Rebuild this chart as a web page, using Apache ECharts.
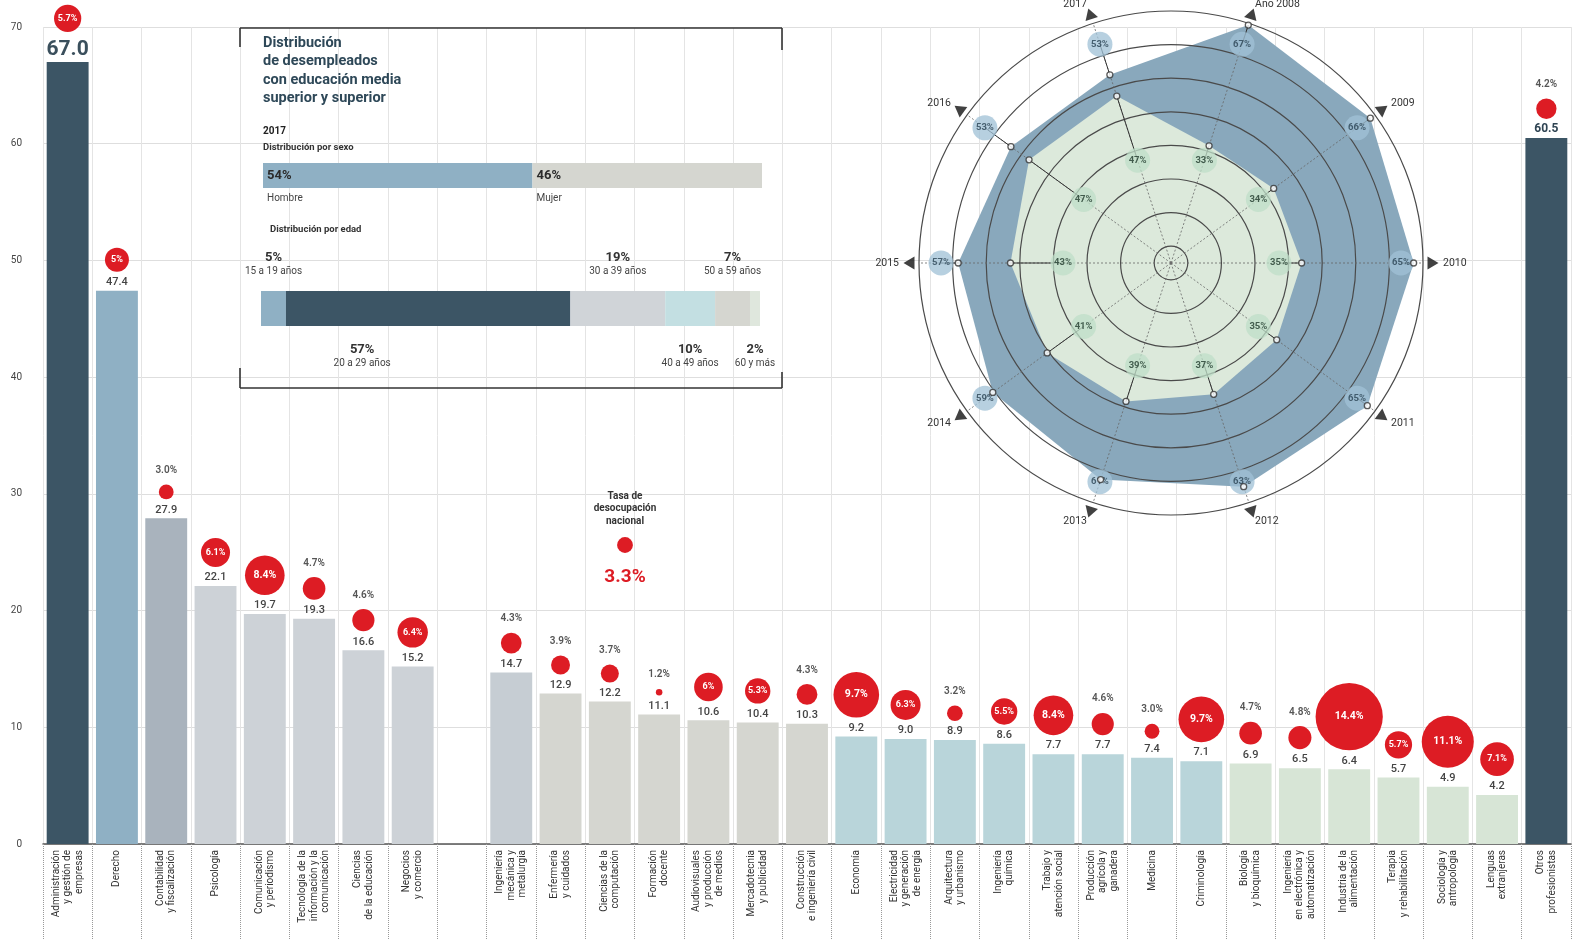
<!DOCTYPE html>
<html><head><meta charset="utf-8">
<script src="https://cdn.jsdelivr.net/npm/echarts@6/dist/echarts.min.js"></script>
<style>html,body{margin:0;padding:0;background:#fff}#c{width:1595px;height:951px}</style>
</head><body><div id="c"></div>
<script>
// ---------- DATA ----------
const categories = ['Administración\ny gestión de\nempresas','Derecho','Contabilidad\ny fiscalización','Psicología','Comunicación\ny periodismo','Tecnología de la\ninformación y la\ncomunicación','Ciencias\nde la educación','Negocios\ny comercio','','Ingeniería\nmecánica y\nmetalurgia','Enfermería\ny cuidados','Ciencias de la\ncomputación','Formación\ndocente','Audiovisuales\ny producción\nde medios','Mercadotecnia\ny publicidad','Construcción\ne ingeniería civil','Economía','Electricidad\ny generación\nde energía','Arquitectura\ny urbanismo','Ingeniería\nquímica','Trabajo y\natención social','Producción\nagrícola y\nganadera','Medicina','Criminología','Biología\ny bioquímica','Ingeniería\nen electrónica y\nautomatización','Industria de la\nalimentación','Terapia\ny rehabilitación','Sociología y\nantropología','Lenguas\nextranjeras','Otros\nprofesionistas'];
const unemployed = [67.0,47.4,27.9,22.1,19.7,19.3,16.6,15.2,null,14.7,12.9,12.2,11.1,10.6,10.4,10.3,9.2,9.0,8.9,8.6,7.7,7.7,7.4,7.1,6.9,6.5,6.4,5.7,4.9,4.2,60.5];
const rates = [5.7,5,3.0,6.1,8.4,4.7,4.6,6.4,null,4.3,3.9,3.7,1.2,6,5.3,4.3,9.7,6.3,3.2,5.5,8.4,4.6,3.0,9.7,4.7,4.8,14.4,5.7,11.1,7.1,4.2];
const rateLabels = ['5.7%','5%','3.0%','6.1%','8.4%','4.7%','4.6%','6.4%','','4.3%','3.9%','3.7%','1.2%','6%','5.3%','4.3%','9.7%','6.3%','3.2%','5.5%','8.4%','4.6%','3.0%','9.7%','4.7%','4.8%','14.4%','5.7%','11.1%','7.1%','4.2%'];
const barGroup = [0,1,2,3,3,3,3,3,-1,4,5,5,5,5,5,5,6,6,6,6,6,6,6,6,7,7,7,7,7,7,0];
const nationalRate = 3.3;

const years = ['2008','2009','2010','2011','2012','2013','2014','2015','2016','2017'];
const shareOuter = [67,66,65,65,63,61,59,57,53,53];
const shareInner = [33,34,35,35,37,39,41,43,47,47];

const sexLabels = ['Hombre','Mujer'];
const sexPct = [54,46];
const ageLabels = ['15 a 19 años','20 a 29 años','30 a 39 años','40 a 49 años','50 a 59 años','60 y más'];
const agePct = [5,57,19,10,7,2];

// ---------- STYLE ----------
const groupColors = ['#3c5565','#8fb0c4','#a9b3bd','#cdd2d7','#c6cdd3','#d5d6d0','#b9d5da','#d7e5d6'];
const RED = '#dd1c24';
const FONT = "'Liberation Sans Narrow','Roboto',sans-serif";
const FONTB = "'Roboto','Noto Sans',sans-serif";

const RC = [1171, 263], RR = 252, RMAX = 67.5, RSPLIT = 15;
const order = [0,9,8,7,6,5,4,3,2,1];
const angOf = i => ((72 - 36 * i) % 360 + 360) % 360;
const rPx = v => v / RMAX * RR;

// bars
const barData = unemployed.map((v, i) => {
  if (v == null) return null;
  const o = { value: v, itemStyle: { color: groupColors[barGroup[i]] } };
  if (i === 0) o.label = { fontSize: 21, fontWeight: 'bold', color: '#3a4f5c', distance: 2 };
  if (i === unemployed.length - 1) o.label = { fontSize: 12, fontWeight: 'bold', color: '#2f4453' };
  return o;
});

// red bubbles
const bubbleData = rates.map((r, i) => {
  if (r == null) return null;
  const size = 4.6 * r + 1;
  const gap = i === 0 ? 30 : 19;
  const inside = r >= 5;
  return {
    value: [i, unemployed[i]],
    symbolSize: size,
    symbolOffset: [0, -(gap + size / 2)],
    label: inside
      ? { show: true, position: 'inside', formatter: rateLabels[i], color: '#fff', fontWeight: 'bold', fontSize: size > 34 ? 10.5 : 9, fontFamily: FONTB }
      : { show: true, position: 'top', distance: 9, formatter: rateLabels[i], color: '#555', fontWeight: 600, fontSize: 10, fontFamily: FONTB }
  };
});

// age series
const ageColors = ['#8fb0c4','#3c5565','#d0d4d8','#c3dfe2','#d5d6d0','#dfe7dd'];
const agePos = ['top','bottom','top','bottom','top','bottom'];
const ageSeries = agePct.map((p, i) => ({
  type: 'bar', xAxisIndex: 2, yAxisIndex: 2, stack: 'age', barWidth: '100%',
  data: [p], itemStyle: { color: ageColors[i] },
  label: {
    show: true, position: agePos[i], distance: agePos[i] === 'top' ? 14 : 16,
    offset: i === 1 ? [-66, 0] : [0, 0],
    formatter: '{p|' + p + '%}\n{n|' + ageLabels[i] + '}',
    rich: { p: { fontSize: 13, fontWeight: 'bold', color: '#333', fontFamily: FONTB, lineHeight: 15, align: 'center' },
            n: { fontSize: 10, color: '#444', fontFamily: FONT, lineHeight: 12, align: 'center' } }
  }
}));
const sexColors = ['#8fb0c4','#d5d6d0'];
const sexSeries = sexPct.map((p, i) => ({
  type: 'bar', xAxisIndex: 1, yAxisIndex: 1, stack: 'sex', barWidth: '100%',
  data: [p], itemStyle: { color: sexColors[i] },
  label: { show: true, position: [4, 2], formatter: '{p|' + p + '%}\n{n|' + sexLabels[i] + '}',
    rich: { p: { fontSize: 13, fontWeight: 'bold', color: '#2b2b2b', fontFamily: FONTB, lineHeight: 22 },
            n: { fontSize: 10, color: '#444', fontFamily: FONT, lineHeight: 22 } } }
}));

// radar overlays (polar, pixel radius units)
const OUT_R = 230, IN_R = 108, TRI_R = 262;
const leaderData = [];
years.forEach((y, i) => {
  leaderData.push([rPx(shareOuter[i]), OUT_R, angOf(i)]);
  leaderData.push([rPx(shareInner[i]), IN_R, angOf(i)]);
});
const pointData = [];
years.forEach((y, i) => { pointData.push([rPx(shareOuter[i]), angOf(i)]); pointData.push([rPx(shareInner[i]), angOf(i)]); });
const outerLabels = years.map((y, i) => [OUT_R, angOf(i), shareOuter[i] + '%']);
const innerLabels = years.map((y, i) => [IN_R, angOf(i), shareInner[i] + '%']);
const triData = years.map((y, i) => ({ value: [TRI_R, angOf(i)], symbolRotate: angOf(i) - 90 }));
const ringData = [];
for (let k = 1; k <= RSPLIT; k += 2) ringData.push([rPx(k * RMAX / RSPLIT), 0]);
const spokeData = years.map((y, i) => [RR, angOf(i)]);

const lineG = (x1, y1, x2, y2) => ({ type: 'line', shape: { x1, y1, x2, y2 }, style: { stroke: '#333', lineWidth: 1.6 }, z: 10 });

const option = {
  backgroundColor: '#fff',
  animation: false,
  textStyle: { fontFamily: FONT },
  grid: [
    { left: 43, right: 24, top: 27, bottom: 107 },
    { left: 263, top: 163, width: 499, height: 25 },
    { left: 261, top: 291, width: 499, height: 35 }
  ],
  xAxis: [
    { type: 'category', data: categories, gridIndex: 0,
      axisLine: { lineStyle: { color: '#555', width: 1.5 } },
      axisTick: { show: true, interval: 0, length: 95, lineStyle: { type: 'dotted', color: '#999' } },
      axisLabel: { interval: 0, rotate: 90, fontSize: 10, lineHeight: 11.5, color: '#333', margin: 6, fontFamily: FONT },
      splitLine: { show: true, interval: 0, lineStyle: { color: '#e4e4e4' } } },
    { type: 'value', gridIndex: 1, min: 0, max: 100, show: false },
    { type: 'value', gridIndex: 2, min: 0, max: 100, show: false }
  ],
  yAxis: [
    { type: 'value', gridIndex: 0, min: 0, max: 70, interval: 10,
      axisLabel: { fontSize: 10, color: '#444', margin: 21, fontFamily: FONTB },
      splitLine: { lineStyle: { color: '#dedede' } }, axisLine: { show: false }, axisTick: { show: false } },
    { type: 'category', gridIndex: 1, data: ['s'], show: false },
    { type: 'category', gridIndex: 2, data: ['a'], show: false }
  ],
  radar: {
    center: RC, radius: RR, startAngle: 72, splitNumber: RSPLIT, shape: 'circle',
    indicator: order.map(i => ({ name: years[i], min: 0, max: RMAX })),
    nameGap: 20,
    axisName: { color: '#333', fontSize: 10.5, fontFamily: FONTB, formatter: n => n === '2008' ? 'Año 2008' : n },
    splitLine: { show: false },
    splitArea: { show: false },
    axisLine: { show: false },
    axisTick: { show: false }, axisLabel: { show: false }
  },
  polar: { center: RC, radius: 300 },
  angleAxis: { type: 'value', min: 0, max: 360, startAngle: 0, clockwise: false, show: false, splitLine: { show: false } },
  radiusAxis: { type: 'value', min: 0, max: 300, show: false, splitLine: { show: false } },
  series: [
    { type: 'bar', xAxisIndex: 0, yAxisIndex: 0, data: barData, barWidth: '85%',
      label: { show: true, position: 'top', distance: 3, fontSize: 11, color: '#444', fontWeight: 500, fontFamily: FONTB,
        formatter: p => p.value.toFixed(1) } },
    { type: 'scatter', xAxisIndex: 0, yAxisIndex: 0, data: bubbleData, clip: false, z: 5,
      itemStyle: { color: RED, opacity: 1 } },
    ...sexSeries,
    ...ageSeries,
    { type: 'radar', z: 2, symbol: 'none',
      lineStyle: { width: 0 },
      data: [
        { value: order.map(i => shareOuter[i]), areaStyle: { color: '#89a8bc', opacity: 1 } },
        { value: order.map(i => shareInner[i]), areaStyle: { color: '#dce9db', opacity: 1 } }
      ] },
    { type: 'custom', coordinateSystem: 'polar', z: 3, data: ringData, encode: { radius: 0, angle: 1 }, silent: true,
      renderItem: (params, api) => {
        const c = api.coord([0, 0]);
        const p = api.coord([api.value(0), 0]);
        return { type: 'circle', shape: { cx: c[0], cy: c[1], r: Math.hypot(p[0] - c[0], p[1] - c[1]) },
                 style: { fill: 'rgba(0,0,0,0)', stroke: '#4a4a4a', lineWidth: 1.2 } };
      } },
    { type: 'custom', coordinateSystem: 'polar', z: 3, data: spokeData, encode: { radius: 0, angle: 1 }, silent: true,
      renderItem: (params, api) => {
        const c = api.coord([0, 0]);
        const p = api.coord([api.value(0), api.value(1)]);
        return { type: 'line', shape: { x1: c[0], y1: c[1], x2: p[0], y2: p[1] },
                 style: { stroke: '#666', lineWidth: 0.8, lineDash: [2, 2] } };
      } },
    { type: 'custom', coordinateSystem: 'polar', z: 4, data: leaderData, encode: { radius: 0, angle: 2 },
      renderItem: (params, api) => {
        const a = api.coord([api.value(0), api.value(2)]);
        const b = api.coord([api.value(1), api.value(2)]);
        return { type: 'line', shape: { x1: a[0], y1: a[1], x2: b[0], y2: b[1] }, style: { stroke: '#333', lineWidth: 1 } };
      } },
    { type: 'scatter', coordinateSystem: 'polar', z: 6, data: outerLabels, symbolSize: 25,
      itemStyle: { color: 'rgba(160,193,214,0.95)' },
      label: { show: true, position: 'inside', formatter: p => p.value[2], fontSize: 9.5, fontWeight: 'bold', color: '#2b4454', fontFamily: FONTB } },
    { type: 'scatter', coordinateSystem: 'polar', z: 6, data: innerLabels, symbolSize: 25,
      itemStyle: { color: 'rgba(190,222,200,0.95)' },
      label: { show: true, position: 'inside', formatter: p => p.value[2], fontSize: 9.5, fontWeight: 'bold', color: '#1f3a2c', fontFamily: FONTB } },
    { type: 'scatter', coordinateSystem: 'polar', z: 7, data: pointData, symbol: 'circle', symbolSize: 6,
      itemStyle: { color: '#fff', borderColor: '#333', borderWidth: 1.3 } },
    { type: 'scatter', coordinateSystem: 'polar', z: 6, data: triData, symbol: 'triangle', symbolSize: [13, 11],
      itemStyle: { color: '#111' } }
  ],
  graphic: [
    lineG(240, 28, 782, 28), lineG(240, 28, 240, 47), lineG(782, 28, 782, 50),
    lineG(240, 388, 782, 388), lineG(240, 368, 240, 388), lineG(782, 372, 782, 388),
    { type: 'text', left: 263, top: 34, z: 10, style: { text: 'Distribución\nde desempleados\ncon educación media\nsuperior y superior', lineHeight: 18.5, fill: '#2e4858', font: "bold 14.5px 'Roboto'" } },
    { type: 'text', left: 263, top: 126, z: 10, style: { text: '2017', font: "bold 10px 'Roboto'", fill: '#222' } },
    { type: 'text', left: 263, top: 143, z: 10, style: { text: 'Distribución por sexo', font: "bold 9.5px 'Roboto'", fill: '#333' } },
    { type: 'text', left: 270, top: 225, z: 10, style: { text: 'Distribución por edad', font: "bold 9.5px 'Roboto'", fill: '#333' } },
    { type: 'text', x: 625, y: 490, z: 10, style: { text: 'Tasa de\ndesocupación\nnacional', align: 'center', font: "bold 10px 'Roboto'", lineHeight: 12.5, fill: '#333' } },
    { type: 'circle', shape: { cx: 625, cy: 545, r: nationalRate * 2.4 }, style: { fill: RED }, z: 10 },
    { type: 'text', x: 625, y: 568, z: 10, style: { text: nationalRate.toFixed(1) + '%', align: 'center', font: "bold 19px 'Roboto'", fill: RED } }
  ]
};

const chart = echarts.init(document.getElementById('c'), null, { renderer: 'canvas' });
chart.setOption(option);
</script>
</body></html>
